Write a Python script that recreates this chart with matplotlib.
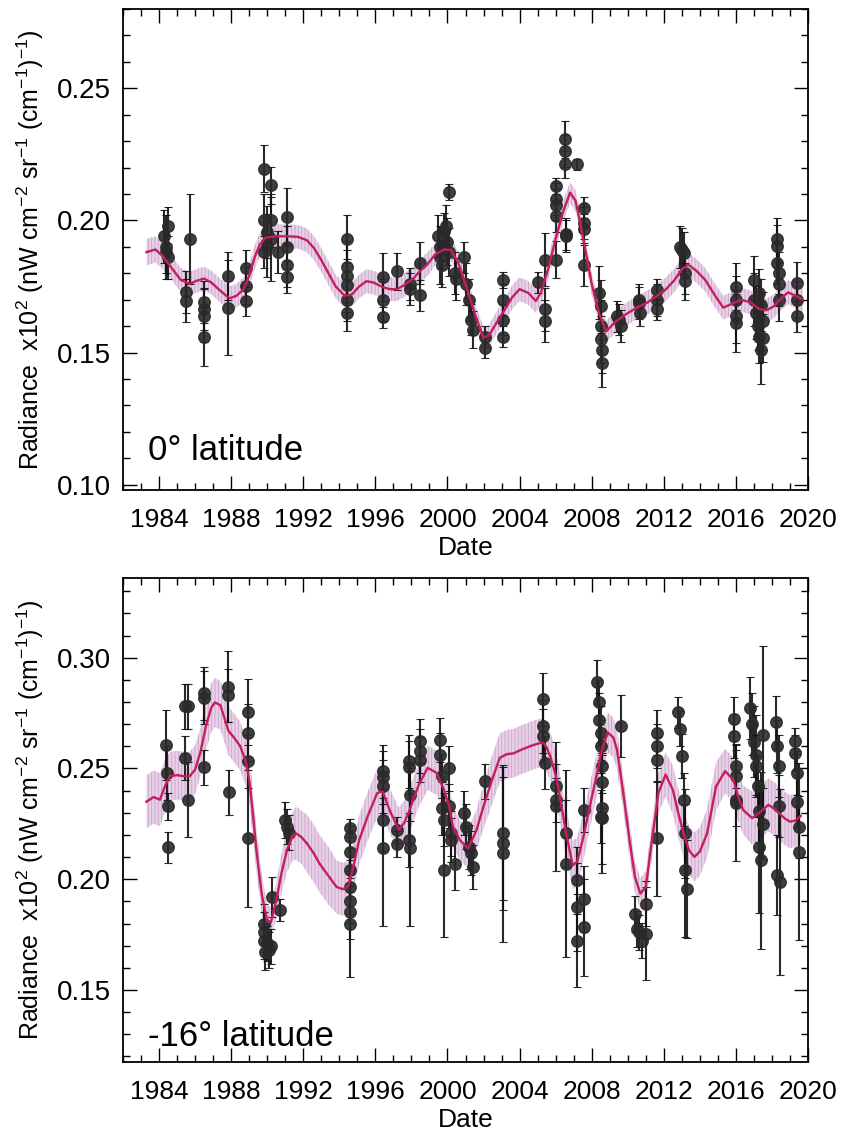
import numpy as np
import matplotlib; matplotlib.use('Agg')
import matplotlib.pyplot as plt
from matplotlib.ticker import MultipleLocator

# ---- 0 deg latitude: observations (year, radiance, 1-sigma) ----
t0 = [1984.3, 1984.4, 1984.4, 1984.5, 1984.5, 1985.5, 1985.5, 1985.7, 1986.5, 1986.5, 1986.5, 1986.5,
      1987.85, 1987.85, 1988.85, 1988.85, 1988.85, 1989.8, 1989.8, 1989.8, 1990.0, 1990.0, 1990.2, 1990.2,
      1990.2, 1990.6, 1991.1, 1991.1, 1991.1, 1991.1, 1994.4, 1994.4, 1994.4, 1994.4, 1994.4, 1994.4,
      1996.4, 1996.4, 1996.4, 1997.2, 1997.9, 1997.9, 1998.5, 1998.5, 1999.5, 1999.6, 1999.6, 1999.7,
      1999.8, 1999.9, 2000.0, 2000.1, 2000.1, 2000.4, 2000.5, 2000.9, 2001.0, 2001.2, 2001.3, 2001.4,
      2002.1, 2002.1, 2003.1, 2003.1, 2003.1, 2003.1, 2005.0, 2005.4, 2005.4, 2005.4, 2006.0, 2006.0,
      2006.0, 2006.0, 2006.0, 2006.5, 2006.5, 2006.5, 2006.6, 2006.6, 2007.2, 2007.6, 2007.6, 2007.6,
      2007.6, 2008.4, 2008.5, 2008.5, 2008.5, 2008.6, 2008.6, 2009.4, 2009.5, 2009.6, 2010.6, 2010.6,
      2010.7, 2011.6, 2011.6, 2011.6, 2012.9, 2013.0, 2013.1, 2013.2, 2013.2, 2016.0, 2016.0, 2016.0,
      2016.0, 2017.0, 2017.0, 2017.1, 2017.2, 2017.3, 2017.3, 2017.4, 2017.4, 2017.5, 2017.5, 2018.3,
      2018.3, 2018.3, 2018.4, 2018.4, 2018.4, 2019.4, 2019.4, 2019.4]
r0 = [0.194, 0.190, 0.188, 0.198, 0.186, 0.1728, 0.1697, 0.193, 0.169, 0.1665, 0.164, 0.156,
      0.179, 0.167, 0.182, 0.1753, 0.1697, 0.2196, 0.200, 0.188, 0.1956, 0.1905, 0.2133, 0.200,
      0.193, 0.188, 0.2013, 0.190, 0.183, 0.1785, 0.193, 0.1823, 0.179, 0.1754, 0.170, 0.165,
      0.1785, 0.170, 0.1634, 0.1807, 0.176, 0.174, 0.184, 0.1716, 0.194, 0.190, 0.186, 0.183,
      0.196, 0.198, 0.192, 0.2107, 0.188, 0.180, 0.1779, 0.186, 0.176, 0.170, 0.1625, 0.1587,
      0.156, 0.1518, 0.1776, 0.170, 0.1625, 0.156, 0.1766, 0.1852, 0.1663, 0.1619, 0.213, 0.208,
      0.206, 0.2016, 0.1852, 0.2307, 0.2263, 0.2212, 0.195, 0.194, 0.2212, 0.2048, 0.199, 0.1966,
      0.1833, 0.1726, 0.1675, 0.160, 0.155, 0.1511, 0.146, 0.1637, 0.1625, 0.160, 0.170, 0.1688,
      0.165, 0.1738, 0.170, 0.1663, 0.190, 0.189, 0.1877, 0.180, 0.177, 0.175, 0.170, 0.1637,
      0.1612, 0.1776, 0.170, 0.165, 0.160, 0.156, 0.1725, 0.168, 0.1511, 0.162, 0.1555, 0.1928,
      0.1903, 0.184, 0.180, 0.1758, 0.170, 0.1764, 0.170, 0.1637]
e0 = [0.010, 0.012, 0.008, 0.007, 0.008, 0.008, 0.008, 0.017, 0.008, 0.008, 0.010, 0.011,
      0.009, 0.018, 0.007, 0.007, 0.006, 0.009, 0.010, 0.006, 0.010, 0.012, 0.007, 0.010,
      0.016, 0.008, 0.011, 0.008, 0.008, 0.006, 0.009, 0.010, 0.010, 0.010, 0.008, 0.007,
      0.009, 0.008, 0.004, 0.007, 0.006, 0.006, 0.008, 0.006, 0.008, 0.008, 0.010, 0.008,
      0.007, 0.008, 0.009, 0.003, 0.009, 0.008, 0.008, 0.006, 0.008, 0.008, 0.006, 0.007,
      0.004, 0.004, 0.003, 0.006, 0.006, 0.004, 0.004, 0.010, 0.008, 0.008, 0.003, 0.006,
      0.006, 0.006, 0.007, 0.007, 0.006, 0.005, 0.006, 0.006, 0.002, 0.004, 0.006, 0.006,
      0.008, 0.010, 0.010, 0.010, 0.009, 0.009, 0.009, 0.006, 0.006, 0.006, 0.006, 0.006,
      0.005, 0.004, 0.006, 0.004, 0.008, 0.008, 0.008, 0.008, 0.007, 0.009, 0.009, 0.010,
      0.011, 0.009, 0.010, 0.010, 0.009, 0.010, 0.009, 0.010, 0.013, 0.011, 0.009, 0.008,
      0.008, 0.008, 0.008, 0.008, 0.008, 0.008, 0.007, 0.006]

f0_t = [1983.3, 1983.8, 1984.2, 1984.7, 1985.2, 1985.7, 1986.1, 1986.5, 1986.9, 1987.3,
        1987.9, 1988.3, 1988.7, 1989.0, 1989.3, 1989.6, 1989.9, 1990.5, 1991.1, 1991.7,
        1992.2, 1992.6, 1993.0, 1993.4, 1993.8, 1994.3, 1994.7, 1995.1, 1995.5, 1995.9,
        1996.4, 1996.8, 1997.2, 1997.6, 1998.1, 1998.5, 1998.9, 1999.3, 1999.8, 2000.2,
        2000.6, 2001.0, 2001.5, 2002.0, 2002.3, 2002.7, 2003.2, 2003.6, 2004.0, 2004.5,
        2004.9, 2005.2, 2005.6, 2006.0, 2006.4, 2006.8, 2007.1, 2007.4, 2007.7, 2008.0,
        2008.4, 2008.8, 2009.3, 2009.9, 2010.5, 2011.1, 2011.6, 2012.1, 2012.6, 2013.0,
        2013.35, 2013.8, 2014.3, 2014.8, 2015.3, 2015.8, 2016.3, 2016.8, 2017.3, 2017.7,
        2018.1, 2018.5, 2018.9, 2019.3, 2019.7]
f0_r = [0.188, 0.189, 0.1865, 0.182, 0.1775, 0.176, 0.1772, 0.178, 0.1765, 0.174,
        0.1705, 0.1715, 0.174, 0.179, 0.186, 0.191, 0.1935, 0.194, 0.194, 0.1938,
        0.1925, 0.1895, 0.185, 0.180, 0.175, 0.1715, 0.172, 0.175, 0.177, 0.1765,
        0.1748, 0.174, 0.174, 0.1755, 0.178, 0.181, 0.1835, 0.187, 0.189, 0.1888,
        0.184, 0.176, 0.165, 0.1556, 0.1565, 0.161, 0.1665, 0.171, 0.174, 0.1725,
        0.1695, 0.173, 0.182, 0.193, 0.203, 0.2105, 0.2075, 0.198, 0.187, 0.176,
        0.165, 0.158, 0.1615, 0.1645, 0.167, 0.169, 0.1713, 0.1738, 0.1775, 0.1815,
        0.1833, 0.181, 0.1775, 0.172, 0.167, 0.1685, 0.170, 0.169, 0.1665, 0.166,
        0.1675, 0.1705, 0.1728, 0.1715, 0.170]
f0_w = [0.0050, 0.0050, 0.0048, 0.0046, 0.0045, 0.0045, 0.0045, 0.0045, 0.0045, 0.0045,
        0.0045, 0.0045, 0.0045, 0.0045, 0.0045, 0.0045, 0.0045, 0.0045, 0.0045, 0.0045,
        0.0045, 0.0045, 0.0045, 0.0045, 0.0045, 0.0045, 0.0045, 0.0045, 0.0045, 0.0045,
        0.0045, 0.0045, 0.0045, 0.0045, 0.0045, 0.0045, 0.0045, 0.0042, 0.0042, 0.0042,
        0.0042, 0.0042, 0.0040, 0.0040, 0.0040, 0.0042, 0.0042, 0.0045, 0.0045, 0.0045,
        0.0045, 0.0045, 0.0042, 0.0040, 0.0040, 0.0040, 0.0040, 0.0040, 0.0040, 0.0040,
        0.0040, 0.0040, 0.0042, 0.0042, 0.0045, 0.0045, 0.0045, 0.0045, 0.0045, 0.0045,
        0.0045, 0.0045, 0.0045, 0.0045, 0.0045, 0.0045, 0.0045, 0.0045, 0.0045, 0.0045,
        0.0045, 0.0045, 0.0045, 0.0048, 0.0050]

# ---- -16 deg latitude: observations ----
t16 = [1984.4, 1984.45, 1984.5, 1984.5, 1985.45, 1985.6, 1985.45, 1985.6, 1986.5, 1986.5, 1986.5,
       1987.85, 1987.85, 1987.9, 1988.95, 1988.95, 1988.95, 1988.95, 1989.8, 1989.8, 1989.8, 1989.85,
       1990.0, 1990.1, 1990.2, 1990.25, 1990.7, 1991.0, 1991.1, 1991.2, 1994.6, 1994.6, 1994.6, 1994.6,
       1994.6, 1994.6, 1994.6, 1994.6, 1996.4, 1996.4, 1996.4, 1996.4, 1996.4, 1997.2, 1997.2, 1997.85,
       1997.85, 1997.9, 1997.85, 1997.9, 1998.5, 1998.5, 1998.5, 1999.6, 1999.6, 1999.7, 1999.7, 1999.8,
       1999.8, 2000.1, 2000.1, 2000.2, 2000.2, 2000.4, 2000.9, 2001.0, 2001.2, 2001.3, 2001.4, 2002.1,
       2003.1, 2003.1, 2003.1, 2005.3, 2005.3, 2005.3, 2005.4, 2006.0, 2006.0, 2006.0, 2006.6, 2006.6,
       2007.2, 2007.2, 2007.2, 2007.6, 2007.6, 2007.6, 2008.3, 2008.4, 2008.4, 2008.5, 2008.5, 2008.6,
       2008.6, 2008.5, 2008.55, 2008.55, 2009.6, 2010.4, 2010.5, 2010.6, 2010.8, 2011.0, 2011.0, 2011.6,
       2011.6, 2011.6, 2011.6, 2012.8, 2012.9, 2013.0, 2013.1, 2013.2, 2013.2, 2013.3, 2015.9, 2015.9,
       2016.0, 2016.0, 2016.0, 2016.0, 2016.8, 2016.9, 2017.0, 2017.1, 2017.1, 2017.2, 2017.3, 2017.3,
       2017.4, 2017.5, 2017.5, 2018.2, 2018.3, 2018.4, 2018.4, 2018.3, 2018.45, 2019.3, 2019.3, 2019.4,
       2019.4, 2019.5, 2019.5]
r16 = [0.2606, 0.248, 0.2329, 0.2144, 0.278, 0.278, 0.2548, 0.236, 0.284, 0.282, 0.2505,
       0.287, 0.283, 0.2392, 0.2756, 0.2662, 0.2533, 0.2185, 0.180, 0.176, 0.172, 0.167,
       0.171, 0.168, 0.1697, 0.192, 0.1862, 0.2268, 0.2238, 0.221, 0.2230, 0.2192, 0.2124, 0.2041,
       0.1965, 0.1904, 0.1851, 0.1798, 0.2488, 0.246, 0.242, 0.2268, 0.214, 0.2223, 0.216, 0.2533,
       0.2505, 0.2382, 0.2177, 0.214, 0.2624, 0.258, 0.254, 0.263, 0.256, 0.2465, 0.232, 0.2268,
       0.2041, 0.250, 0.233, 0.2207, 0.2177, 0.207, 0.2298, 0.2238, 0.2147, 0.2117, 0.2056, 0.2442,
       0.2207, 0.2162, 0.2117, 0.2813, 0.269, 0.2647, 0.2526, 0.2419, 0.2359, 0.2329, 0.2207, 0.2071,
       0.1995, 0.1874, 0.1723, 0.2313, 0.1912, 0.1783, 0.2889, 0.280, 0.272, 0.266, 0.260, 0.251,
       0.244, 0.2283, 0.232, 0.2276, 0.2692, 0.1844, 0.1776, 0.176, 0.1723, 0.189, 0.1753, 0.2662,
       0.260, 0.254, 0.2185, 0.2753, 0.268, 0.2556, 0.2359, 0.2207, 0.204, 0.1957, 0.2723, 0.2647,
       0.251, 0.2465, 0.2359, 0.2344, 0.2775, 0.270, 0.262, 0.256, 0.251, 0.2419, 0.2310, 0.2147,
       0.2086, 0.2652, 0.2250, 0.2708, 0.2600, 0.251, 0.2329, 0.2018, 0.1988, 0.2624, 0.257, 0.2480,
       0.2351, 0.2238, 0.2124]
e16 = [0.016, 0.012, 0.006, 0.007, 0.010, 0.010, 0.010, 0.017, 0.012, 0.012, 0.008,
       0.016, 0.012, 0.010, 0.015, 0.013, 0.012, 0.031, 0.009, 0.009, 0.008, 0.008,
       0.008, 0.008, 0.008, 0.009, 0.005, 0.008, 0.008, 0.008, 0.004, 0.005, 0.010, 0.010,
       0.012, 0.010, 0.012, 0.024, 0.012, 0.012, 0.012, 0.014, 0.035, 0.006, 0.006, 0.012,
       0.012, 0.012, 0.012, 0.035, 0.010, 0.010, 0.010, 0.010, 0.010, 0.010, 0.012, 0.012,
       0.030, 0.010, 0.010, 0.010, 0.010, 0.012, 0.010, 0.010, 0.010, 0.010, 0.010, 0.008,
       0.030, 0.030, 0.040, 0.012, 0.012, 0.012, 0.012, 0.010, 0.010, 0.029, 0.015, 0.042,
       0.015, 0.020, 0.021, 0.010, 0.015, 0.022, 0.010, 0.010, 0.012, 0.012, 0.012, 0.012,
       0.012, 0.012, 0.025, 0.025, 0.014, 0.008, 0.008, 0.008, 0.008, 0.010, 0.021, 0.010,
       0.010, 0.010, 0.026, 0.007, 0.008, 0.010, 0.012, 0.020, 0.030, 0.022, 0.010, 0.010,
       0.010, 0.012, 0.012, 0.026, 0.014, 0.014, 0.016, 0.018, 0.014, 0.014, 0.014, 0.030,
       0.040, 0.040, 0.016, 0.012, 0.012, 0.014, 0.014, 0.018, 0.042, 0.006, 0.008, 0.010,
       0.012, 0.014, 0.040]

# ---- -16 deg latitude: smoothed fit and band half-width ----
f16_t = [1983.3, 1983.7, 1984.05, 1984.3, 1984.6, 1985.0, 1985.4, 1985.7, 1986.0, 1986.3,
         1986.6, 1986.9, 1987.1, 1987.4, 1987.6, 1987.85, 1988.2, 1988.5, 1988.8, 1989.0,
         1989.2, 1989.4, 1989.7, 1990.0, 1990.2, 1990.5, 1990.8, 1991.1, 1991.4, 1991.6,
         1991.9, 1992.2, 1992.6, 1992.9, 1993.4, 1993.85, 1994.2, 1994.5, 1994.8, 1995.1,
         1995.6, 1996.1, 1996.4, 1996.8, 1997.3, 1997.6, 1997.9, 1998.4, 1998.9, 1999.4,
         1999.8, 2000.1, 2000.3, 2000.7, 2001.15, 2001.6, 2002.0, 2002.5, 2002.9, 2003.3,
         2003.65, 2004.1, 2004.6, 2005.0, 2005.3, 2005.5, 2005.7, 2006.0, 2006.2, 2006.6,
         2006.95, 2007.2, 2007.5, 2007.9, 2008.3, 2008.6, 2008.9, 2009.2, 2009.4, 2009.7,
         2010.1, 2010.4, 2010.7, 2011.0, 2011.3, 2011.7, 2012.1, 2012.5, 2012.8, 2013.1,
         2013.4, 2013.7, 2014.0, 2014.4, 2014.9, 2015.4, 2015.85, 2016.1, 2016.4, 2016.9,
         2017.3, 2017.8, 2018.1, 2018.4, 2018.7, 2019.0, 2019.3, 2019.6]
f16_r = [0.235, 0.2371, 0.2359, 0.2415, 0.2465, 0.2470, 0.2465, 0.2465, 0.2495, 0.2575,
         0.2692, 0.2775, 0.2798, 0.2786, 0.2735, 0.2670, 0.2635, 0.2601, 0.2535, 0.245,
         0.230, 0.2132, 0.193, 0.1813, 0.1805, 0.1904, 0.203, 0.2132, 0.2195, 0.2207,
         0.219, 0.2162, 0.2115, 0.2071, 0.2015, 0.1965, 0.1955, 0.197, 0.2065, 0.2177,
         0.229, 0.2389, 0.2397, 0.2310, 0.2223, 0.2255, 0.2313, 0.2425, 0.2503, 0.248,
         0.2405, 0.2329, 0.2238, 0.2175, 0.2139, 0.222, 0.2329, 0.2455, 0.2548, 0.2565,
         0.2568, 0.2585, 0.2601, 0.2612, 0.2617, 0.2595, 0.2556, 0.2470, 0.2389, 0.2200,
         0.2063, 0.2080, 0.2177, 0.2330, 0.248, 0.2595, 0.2662, 0.2640, 0.2586, 0.2420,
         0.2177, 0.2010, 0.1935, 0.1965, 0.2150, 0.2389, 0.2473, 0.2404, 0.2300, 0.2207,
         0.2130, 0.2101, 0.2125, 0.2207, 0.2419, 0.2488, 0.245, 0.2380, 0.2313, 0.2276,
         0.2300, 0.2336, 0.2320, 0.2298, 0.2275, 0.226, 0.2265, 0.2286]
f16_w = [0.012, 0.012, 0.012, 0.012, 0.011, 0.011, 0.011, 0.011, 0.011, 0.011,
         0.011, 0.011, 0.011, 0.011, 0.011, 0.011, 0.011, 0.011, 0.011, 0.011,
         0.011, 0.010, 0.009, 0.007, 0.007, 0.008, 0.009, 0.010, 0.011, 0.012,
         0.012, 0.013, 0.013, 0.013, 0.013, 0.012, 0.012, 0.011, 0.011, 0.011,
         0.011, 0.011, 0.011, 0.010, 0.010, 0.010, 0.010, 0.010, 0.010, 0.010,
         0.009, 0.009, 0.009, 0.009, 0.009, 0.009, 0.010, 0.011, 0.011, 0.011,
         0.011, 0.011, 0.011, 0.011, 0.011, 0.011, 0.011, 0.011, 0.011, 0.011,
         0.011, 0.011, 0.011, 0.010, 0.010, 0.009, 0.009, 0.009, 0.009, 0.008,
         0.008, 0.007, 0.007, 0.007, 0.008, 0.009, 0.010, 0.011, 0.011, 0.011,
         0.011, 0.011, 0.011, 0.011, 0.011, 0.010, 0.010, 0.011, 0.011, 0.012,
         0.012, 0.012, 0.012, 0.012, 0.012, 0.012, 0.012, 0.012]

plt.rcParams['font.family'] = ['Liberation Sans', 'DejaVu Sans']
plt.rcParams['mathtext.fontset'] = 'custom'
plt.rcParams['mathtext.rm'] = 'Liberation Sans'
plt.rcParams['hatch.linewidth'] = 0.6
LINE = '#c41f5c'; BAND = '#e8d2e8'; HATCH = '#c9a2cb'; PT = '#2a2a2a'

fig = plt.figure(figsize=(8.46, 11.36), dpi=100)
# axes boxes in pixels (left, top, right, bottom) -> figure fractions
def box(l, t, r, b): return [l / 846, 1 - b / 1136, (r - l) / 846, (b - t) / 1136]
ax0 = fig.add_axes(box(123, 9, 808, 490))
ax1 = fig.add_axes(box(123, 578, 808, 1062))

def panel(ax, t, r, e, ft, fr, fw, ylim, label, ly):
    ft = np.array(ft); fr = np.array(fr); fw = np.array(fw)
    ax.fill_between(ft, fr - fw, fr + fw, facecolor=BAND, edgecolor=HATCH, hatch='|||||', lw=0, zorder=1)
    ax.errorbar(t, r, yerr=e, fmt='o', color=PT, ms=8.3, mec=PT, ecolor='#111111', elinewidth=1.5,
                capsize=3, capthick=0.8, alpha=0.9, zorder=2)
    ax.plot(ft, fr, color=LINE, lw=1.7, zorder=3)
    ax.set_xlim(1982, 2020); ax.set_ylim(*ylim)
    ax.xaxis.set_major_locator(MultipleLocator(4)); ax.xaxis.set_minor_locator(MultipleLocator(1))
    ax.yaxis.set_major_locator(MultipleLocator(0.05)); ax.yaxis.set_minor_locator(MultipleLocator(0.01))
    ax.yaxis.set_major_formatter(plt.FormatStrFormatter('%.2f'))
    ax.tick_params(which='both', direction='in', top=True, right=True, width=1.0)
    ax.tick_params(axis='x', labelsize=19, pad=13)
    ax.tick_params(axis='y', labelsize=20, pad=9)
    ax.tick_params(which='major', length=10)
    ax.tick_params(which='minor', length=5)
    for s in ax.spines.values(): s.set_linewidth(1.3)
    ax.set_xlabel('Date', fontsize=19, labelpad=3)
    ax.set_ylabel(r'Radiance  x10$^{\mathregular{2}}$ (nW cm$^{\mathregular{-2}}$ sr$^{\mathregular{-1}}$ (cm$^{\mathregular{-1}}$)$^{\mathregular{-1}}$)',
                  fontsize=18)
    ax.yaxis.set_label_coords(-0.113, 0.5)
    ax.text(0.037, ly, label, transform=ax.transAxes, fontsize=25, ha='left', va='baseline')

panel(ax0, t0, r0, e0, f0_t, f0_r, f0_w, (0.098, 0.280), '0° latitude', 0.062)
panel(ax1, t16, r16, e16, f16_t, f16_r, f16_w, (0.1175, 0.336), '-16° latitude', 0.033)

plt.savefig('out.png', dpi=100)
